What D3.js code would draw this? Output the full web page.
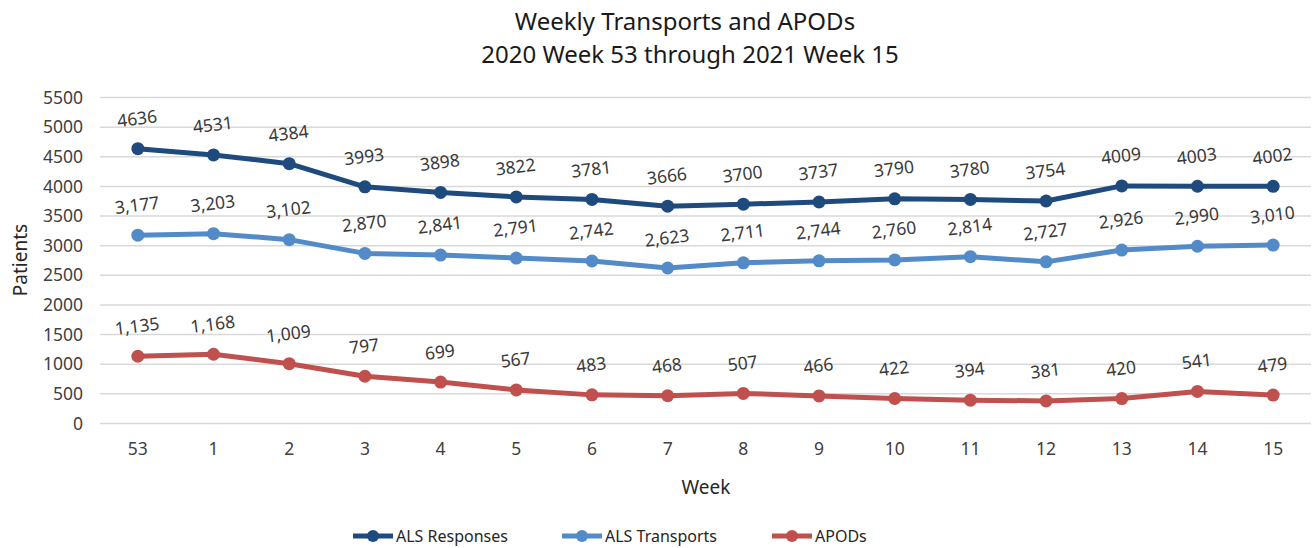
<!DOCTYPE html>
<html>
<head>
<meta charset="utf-8">
<script src="https://cdn.jsdelivr.net/npm/d3@7"></script>
<style>
  body { margin: 0; background: #fff; }
  svg text { font-family: "Noto Sans", "Open Sans", sans-serif; }
</style>
</head>
<body>
<svg id="chart" width="1315" height="548"></svg>
<script>
// chart data
const weeks = ["53", "1", "2", "3", "4", "5", "6", "7", "8", "9", "10", "11", "12", "13", "14", "15"];
const alsResponses = [4636, 4531, 4384, 3993, 3898, 3822, 3781, 3666, 3700, 3737, 3790, 3780, 3754, 4009, 4003, 4002];
const alsTransports = [3177, 3203, 3102, 2870, 2841, 2791, 2742, 2623, 2711, 2744, 2760, 2814, 2727, 2926, 2990, 3010];
const apods = [1135, 1168, 1009, 797, 699, 567, 483, 468, 507, 466, 422, 394, 381, 420, 541, 479];
const yTicks = [0, 500, 1000, 1500, 2000, 2500, 3000, 3500, 4000, 4500, 5000, 5500];

const series = [
    { name: "ALS Responses", values: alsResponses, color: "#1f4a7d", fmt: d3.format("d") },
    { name: "ALS Transports", values: alsTransports, color: "#538bc9", fmt: d3.format(",") },
    { name: "APODs", values: apods, color: "#c0504d", fmt: d3.format(",") }
];

const svg = d3.select("#chart");
const margin = { left: 100, right: 4, top: 97.5, bottom: 124.5 };
const width = 1315 - margin.left - margin.right;
const height = 548 - margin.top - margin.bottom;

const x = d3.scaleBand().domain(weeks).range([margin.left, margin.left + width]);
const y = d3.scaleLinear().domain([0, 5500]).range([margin.top + height, margin.top]);
const cx = (w) => x(w) + x.bandwidth() / 2;

// gridlines
svg.append("g")
    .selectAll("line")
    .data(yTicks)
    .enter()
    .append("line")
    .attr("x1", margin.left)
    .attr("x2", margin.left + width)
    .attr("y1", d => y(d))
    .attr("y2", d => y(d))
    .attr("stroke", "#d9d9d9")
    .attr("stroke-width", 1.5);

// y axis labels
const yAxis = d3.axisLeft(y).tickValues(yTicks).tickFormat(d3.format("d")).tickSize(0).tickPadding(17);
svg.append("g")
    .attr("transform", "translate(" + margin.left + ",0)")
    .call(yAxis)
    .call(g => g.select(".domain").remove())
    .selectAll("text")
    .attr("font-size", 17.5)
    .attr("fill", "#404040");

// x axis labels
const xAxis = d3.axisBottom(x).tickSize(0).tickPadding(19);
svg.append("g")
    .attr("transform", "translate(0," + (margin.top + height) + ")")
    .call(xAxis)
    .call(g => g.select(".domain").remove())
    .selectAll("text")
    .attr("font-size", 17.5)
    .attr("fill", "#404040");

// titles
svg.append("text")
    .attr("x", 685).attr("y", 30)
    .attr("text-anchor", "middle")
    .attr("font-size", 24)
    .attr("fill", "#1a1a1a")
    .text("Weekly Transports and APODs");
svg.append("text")
    .attr("x", 690).attr("y", 63)
    .attr("text-anchor", "middle")
    .attr("font-size", 24)
    .attr("fill", "#1a1a1a")
    .text("2020 Week 53 through  2021 Week 15");

svg.append("text")
    .attr("x", 706).attr("y", 494)
    .attr("text-anchor", "middle")
    .attr("font-size", 19)
    .attr("fill", "#262626")
    .text("Week");

svg.append("text")
    .attr("transform", "translate(27,260) rotate(-90)")
    .attr("text-anchor", "middle")
    .attr("font-size", 19)
    .attr("fill", "#262626")
    .text("Patients");

const line = d3.line()
    .x((d, i) => cx(weeks[i]))
    .y(d => y(d));

for (let s of series) {
    const g = svg.append("g");

    g.append("path")
        .attr("d", line(s.values))
        .attr("fill", "none")
        .attr("stroke", s.color)
        .attr("stroke-width", 5)
        .attr("stroke-linejoin", "round");

    g.selectAll("circle")
        .data(s.values)
        .enter()
        .append("circle")
        .attr("cx", (d, i) => cx(weeks[i]))
        .attr("cy", d => y(d))
        .attr("r", 6.5)
        .attr("fill", s.color);

    // value labels, slightly tilted like the original
    g.selectAll("text")
        .data(s.values)
        .enter()
        .append("text")
        .attr("transform", (d, i) =>
            "translate(" + cx(weeks[i]) + "," + (y(d) - 24) + ") rotate(-7)")
        .attr("text-anchor", "middle")
        .attr("font-size", 17.5)
        .attr("fill", "#3a3a3a")
        .text(d => s.fmt(d));
}

// legend
const legendX = [353, 562, 772];
const legend = svg.append("g")
    .selectAll("g")
    .data(series)
    .enter()
    .append("g")
    .attr("transform", (d, i) => "translate(" + legendX[i] + ",536)");

legend.append("line")
    .attr("x1", 0).attr("x2", 40)
    .attr("stroke", d => d.color)
    .attr("stroke-width", 5);
legend.append("circle")
    .attr("cx", 20).attr("r", 6)
    .attr("fill", d => d.color);
legend.append("text")
    .attr("x", 43).attr("y", 6)
    .attr("font-size", 16)
    .attr("fill", "#262626")
    .text(d => d.name);
</script>
</body>
</html>
